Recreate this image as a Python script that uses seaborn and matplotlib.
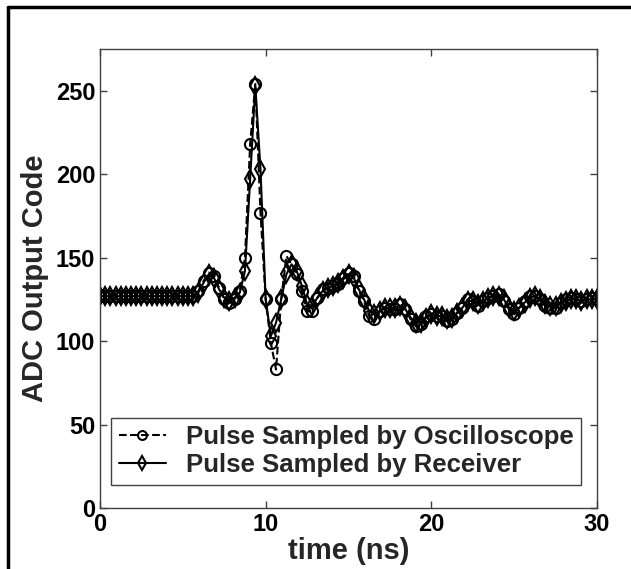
import matplotlib
matplotlib.use('Agg')
import matplotlib.pyplot as plt
from matplotlib.lines import Line2D
import numpy as np
import pandas as pd
import seaborn as sns

# sample times: 3.2 GS/s -> 0.3125 ns spacing, 0..30 ns
time_ns = np.arange(97) * 0.3125

scope_code = [127, 127, 127, 127, 127, 127, 127, 127, 127, 127,
              127, 127, 127, 127, 127, 127, 127, 127, 127, 130,
              136, 141, 139, 132, 125, 123, 125, 130, 150, 218,
              254, 177, 125, 99, 83, 125, 151, 146, 140, 130,
              118, 118, 126, 131, 132, 133, 134, 138, 141, 139,
              130, 124, 115, 113, 118, 120, 119, 119, 122, 119,
              113, 109, 110, 115, 116, 115, 115, 112, 113, 117,
              120, 125, 124, 121, 124, 126, 127, 128, 124, 119,
              116, 120, 124, 127, 127, 125, 121, 120, 120, 123,
              125, 126, 125, 124, 125, 126, 125]

receiver_code = [127, 127, 127, 127, 127, 127, 127, 127, 127, 127,
                 127, 127, 127, 127, 127, 127, 127, 127, 127, 129,
                 135, 140, 138, 131, 126, 124, 126, 129, 142, 197,
                 253, 203, 125, 103, 111, 125, 140, 146, 142, 133,
                 122, 121, 126, 130, 132, 133, 135, 137, 140, 138,
                 131, 125, 118, 116, 118, 120, 120, 120, 121, 119,
                 114, 111, 111, 114, 116, 115, 115, 113, 114, 117,
                 120, 124, 124, 122, 124, 126, 127, 127, 125, 120,
                 118, 120, 123, 126, 127, 125, 122, 121, 121, 123,
                 124, 125, 125, 124, 125, 125, 125]

labels = ['Pulse Sampled by Oscilloscope', 'Pulse Sampled by Receiver']

df = pd.DataFrame({'time': np.concatenate([time_ns, time_ns]),
                   'code': scope_code + receiver_code,
                   'series': [labels[0]] * 97 + [labels[1]] * 97})

sns.set_style('ticks')
plt.rcParams['font.family'] = ['Liberation Sans', 'DejaVu Sans']
plt.rcParams['font.weight'] = 'bold'

fig = plt.figure(figsize=(6.31, 5.69), dpi=100)
ax = fig.add_axes([100 / 631, 61 / 569, 497 / 631, 459 / 569])

styles = {labels[0]: dict(ls='--', marker='o', ms=8),
          labels[1]: dict(ls='-', marker='d', ms=9)}
for name in labels:
    sub = df[df['series'] == name]
    sns.lineplot(data=sub, x='time', y='code', ax=ax, color='black',
                 lw=1.5, mfc='none', mec='black', mew=1.5,
                 label=name, **styles[name])

ax.set_xlim(0, 30)
ax.set_ylim(0, 275)
ax.set_xticks([0, 10, 20, 30])
ax.set_yticks([0, 50, 100, 150, 200, 250])
ax.tick_params(direction='in', length=5, width=1, colors='#404040',
               labelcolor='black', labelsize=17, top=True, right=True)
for s in ax.spines.values():
    s.set_color('#404040')
    s.set_linewidth(1)
for t in ax.get_xticklabels() + ax.get_yticklabels():
    t.set_fontweight('bold')

ax.set_xlabel('time (ns)', fontsize=21, fontweight='bold', labelpad=1)
ax.set_ylabel('ADC Output Code', fontsize=21, fontweight='bold', labelpad=5)

leg = ax.legend(loc='lower left', bbox_to_anchor=(11 / 497, 23 / 459),
                frameon=True, fancybox=False, edgecolor='#404040',
                framealpha=1, borderaxespad=0, handlelength=1.85,
                handletextpad=0.75, labelspacing=0.15, borderpad=0.3,
                markerscale=0.8, prop={'size': 18.5, 'weight': 'bold'})
leg.get_frame().set_linewidth(1)

# outer frame cut at right/bottom, as in the source figure
fig.add_artist(Line2D([8 / 631, 8 / 631], [0, 1 - 7 / 569],
                      transform=fig.transFigure, color='black', lw=2.5))
fig.add_artist(Line2D([8 / 631, 1], [1 - 7 / 569, 1 - 7 / 569],
                      transform=fig.transFigure, color='black', lw=2.5))

fig.savefig('out.png', dpi=100)
